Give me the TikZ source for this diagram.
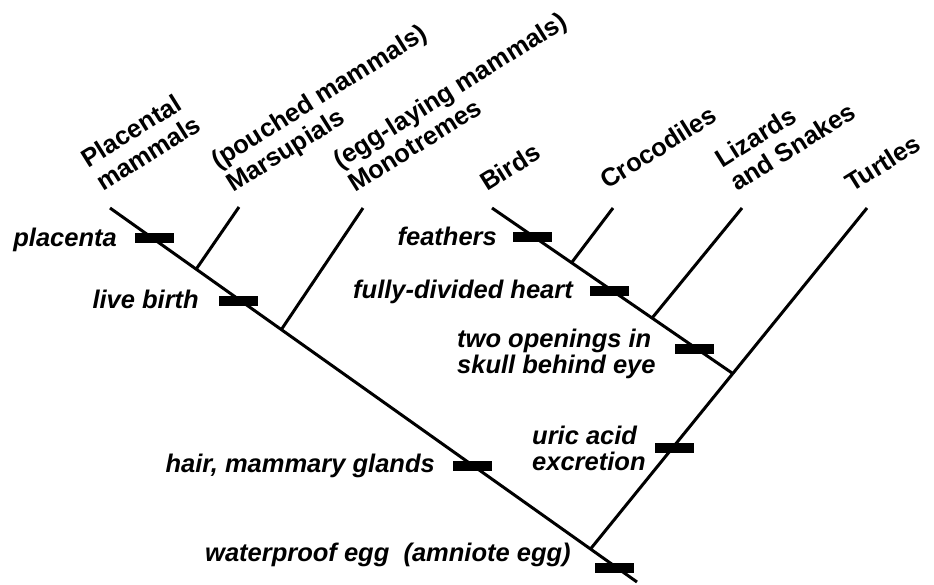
\documentclass[tikz,border=0pt]{standalone}
\usepackage{fontspec}
\setmainfont{Liberation Sans}
\newcommand{\twolines}[2]{\vbox{\hbox{#1}\hbox{#2}}}
\begin{document}
\begin{tikzpicture}[x=1pt,y=-1pt,
  branch/.style={line width=3pt},
  bar/.style={fill=black, minimum width=39pt, minimum height=10pt, inner sep=0pt, outer sep=0pt},
  trait/.style={font=\fontsize{25.5}{26}\selectfont\bfseries\itshape, inner sep=0pt},
  taxon/.style={font=\fontsize{25.5}{28}\selectfont\bfseries, inner sep=0pt, rotate=32, anchor=base west}]
\useasboundingbox (0,0) rectangle (934,584);
% main lines
\coordinate (A) at (110,208);
\coordinate (B) at (637,582);
\coordinate (T) at (867,208);
\coordinate (Td) at (592,547);
\coordinate (J) at (intersection of T--Td and A--B);
\coordinate (Bi) at (492,208);
\coordinate (Bid) at (732,373);
\coordinate (K) at (intersection of Bi--Bid and T--J);
% side branches
\coordinate (M) at (239,207);
\coordinate (Md) at (199,265);
\coordinate (Mj) at (intersection of M--Md and A--B);
\coordinate (Mo) at (363,208);
\coordinate (Mod) at (283,327);
\coordinate (Moj) at (intersection of Mo--Mod and A--B);
\coordinate (C) at (613,208);
\coordinate (Cd) at (572,262);
\coordinate (Cj) at (intersection of C--Cd and Bi--K);
\coordinate (L) at (742,208);
\coordinate (Ld) at (652,318);
\coordinate (Lj) at (intersection of L--Ld and Bi--K);

\draw[branch] (A) -- (B);
\draw[branch] (T) -- (J);
\draw[branch] (Bi) -- (K);
\draw[branch] (M) -- (Mj);
\draw[branch] (Mo) -- (Moj);
\draw[branch] (C) -- (Cj);
\draw[branch] (L) -- (Lj);

% trait bars
\node[bar] (bPlac) at (154.5,238) {};
\node[bar] (bLive) at (238.5,300.5) {};
\node[bar] (bHair) at (472.5,466) {};
\node[bar] (bEgg) at (614,567.5) {};
\node[bar] (bFeath) at (532.5,237) {};
\node[bar] (bHeart) at (609.5,291) {};
\node[bar] (bSkull) at (694.5,349) {};
\node[bar] (bUric) at (674,447.5) {};

% trait labels
\node[trait, anchor=base east] (tPlac) at (117,246) {placenta};
\node[trait, anchor=base east] (tLive) at (199,308) {live birth};
\node[trait, anchor=base east] (tFeath) at (497,245) {feathers};
\node[trait, anchor=base east] (tHeart) at (573,298) {fully-divided heart};
\node[trait, anchor=base west] (tSkull) at (457,373) {\twolines{two openings in}{skull behind eye}};
\node[trait, anchor=base east] (tHair) at (435,472) {hair, mammary glands};
\node[trait, anchor=base west] (tUric) at (532,470) {\twolines{uric acid}{excretion}};
\node[trait, anchor=base west] (tEgg) at (205,561) {waterproof egg\ \ (amniote egg)};

% taxon labels
\node[taxon] (xPlac) at (103,192) {\twolines{Placental}{mammals}};
\node[taxon] (xMars) at (233,193) {\twolines{(pouched mammals)}{Marsupials}};
\node[taxon] (xMono) at (355,193) {\twolines{(egg-laying mammals)}{Monotremes}};
\node[taxon] (xBird) at (487,192) {Birds};
\node[taxon] (xCroc) at (607,190) {Crocodiles};
\node[taxon] (xLiz) at (737,192) {\twolines{Lizards}{and Snakes}};
\node[taxon] (xTurt) at (852,193) {Turtles};
\end{tikzpicture}
\end{document}
